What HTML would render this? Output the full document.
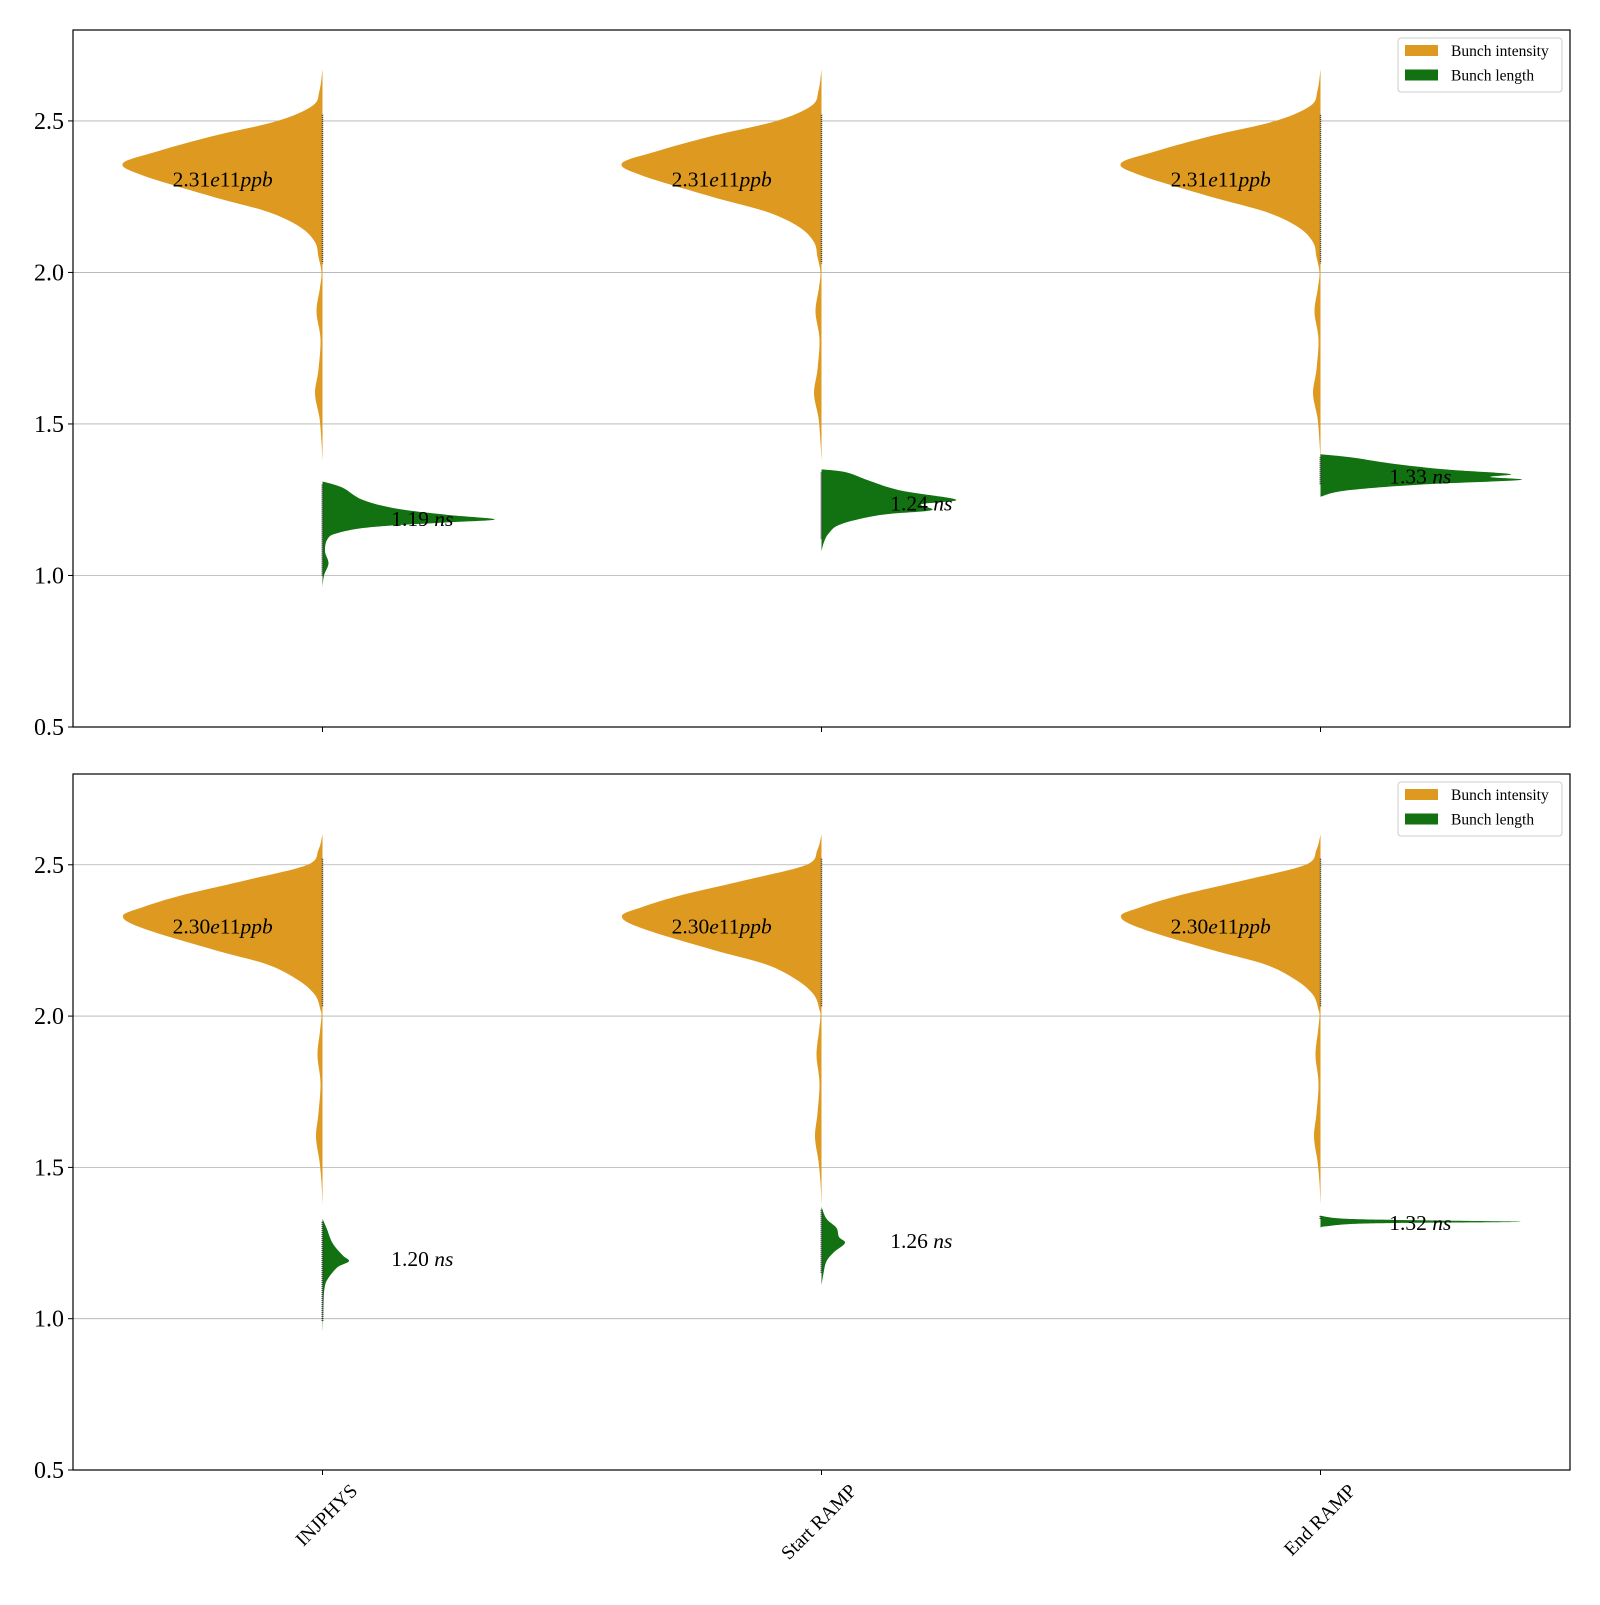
<!DOCTYPE html>
<html><head><meta charset="utf-8"><style>
html,body{margin:0;padding:0;background:#fff;}
svg text{font-family:"Liberation Serif",serif;}
</style></head><body>
<svg id="chart" width="1600" height="1600" xmlns="http://www.w3.org/2000/svg"></svg>
<script>
const categories = ["INJPHYS", "Start RAMP", "End RAMP"];
const yTicks = [0.5, 1.0, 1.5, 2.0, 2.5];
const yTickLabels = ["0.5", "1.0", "1.5", "2.0", "2.5"];
// Orange (intensity, e11 ppb) density profiles: [value, half-width]
const intensityTop = [[2.67,0],[2.6,0.006],[2.55,0.02],[2.5,0.09],[2.45,0.22],[2.4,0.33],[2.36,0.4],[2.32,0.36],[2.25,0.22],[2.2,0.11],[2.15,0.045],[2.1,0.015],[2.05,0.008],[2.0,0.002],[1.95,0.005],[1.87,0.012],[1.78,0.004],[1.68,0.008],[1.6,0.015],[1.52,0.006],[1.44,0.002],[1.38,0]];
const intensityBottom = [[2.6,0],[2.55,0.008],[2.5,0.03],[2.45,0.15],[2.4,0.28],[2.36,0.36],[2.33,0.4],[2.29,0.36],[2.22,0.22],[2.17,0.11],[2.12,0.05],[2.07,0.015],[2.02,0.004],[2.0,0.002],[1.95,0.005],[1.87,0.01],[1.78,0.004],[1.68,0.008],[1.6,0.013],[1.52,0.006],[1.45,0.002],[1.38,0]];
const intensityLabelsTop = ["2.31", "2.31", "2.31"];
const intensityLabelsBottom = ["2.30", "2.30", "2.30"];
const intensityMeanTop = [2.31, 2.31, 2.31];
const intensityMeanBottom = [2.30, 2.30, 2.30];
// Green (bunch length, ns) density profiles
const lengthTop = [
 [[1.31,0],[1.29,0.04],[1.25,0.08],[1.22,0.15],[1.2,0.25],[1.185,0.345],[1.175,0.25],[1.16,0.1],[1.14,0.03],[1.12,0.01],[1.08,0.005],[1.04,0.012],[1.0,0.003],[0.96,0]],
 [[1.35,0],[1.34,0.05],[1.31,0.1],[1.28,0.16],[1.25,0.27],[1.235,0.2],[1.215,0.22],[1.2,0.12],[1.17,0.04],[1.14,0.015],[1.11,0.005],[1.08,0]],
 [[1.4,0],[1.39,0.06],[1.37,0.14],[1.35,0.25],[1.335,0.38],[1.325,0.34],[1.315,0.4],[1.3,0.2],[1.28,0.05],[1.26,0]]
];
const lengthBottom = [
 [[1.33,0],[1.3,0.008],[1.25,0.02],[1.21,0.04],[1.19,0.053],[1.17,0.03],[1.13,0.01],[1.1,0.004],[1.05,0.002],[0.95,0]],
 [[1.37,0],[1.33,0.01],[1.3,0.03],[1.27,0.035],[1.25,0.047],[1.22,0.025],[1.19,0.01],[1.15,0.004],[1.11,0]],
 [[1.34,0],[1.33,0.05],[1.325,0.2],[1.32,0.4],[1.315,0.1],[1.305,0.01],[1.3,0]]
];
const lengthLabelsTop = ["1.19", "1.24", "1.33"];
const lengthLabelsBottom = ["1.20", "1.26", "1.32"];
const lengthMeanTop = [1.19, 1.24, 1.33];
const lengthMeanBottom = [1.20, 1.26, 1.32];

const NS = "http://www.w3.org/2000/svg";
const svg = document.getElementById("chart");
function mk(tag, attrs, parent){const e=document.createElementNS(NS,tag);for(const k in attrs)e.setAttribute(k,attrs[k]);(parent||svg).appendChild(e);return e;}
const X0=73, X1=1570;
const xScale = v => X0 + (v+0.5)/3*(X1-X0);
function curve(pts){let d="M"+pts[0][0]+","+pts[0][1];for(let i=0;i<pts.length-1;i++){const p0=pts[Math.max(0,i-1)],p1=pts[i],p2=pts[i+1],p3=pts[Math.min(pts.length-1,i+2)];const c1=[p1[0]+(p2[0]-p0[0])/6,p1[1]+(p2[1]-p0[1])/6],c2=[p2[0]-(p3[0]-p1[0])/6,p2[1]-(p3[1]-p1[1])/6];d+=" C"+c1[0].toFixed(1)+","+c1[1].toFixed(1)+" "+c2[0].toFixed(1)+","+c2[1].toFixed(1)+" "+p2[0].toFixed(1)+","+p2[1].toFixed(1);}return d;}
function panel(top,bottom,intens,iLabels,iMeans,lens,lLabels,lMeans,showX,name){
  const yScale = v => bottom - (v-0.5)/2.3*(bottom-top);
  const g=mk("g",{});
  
  
  yTicks.forEach((t,i)=>{
    const y=yScale(t);
    if(t>0.5){const gl=mk("line",{x1:X0,x2:X1,y1:y,y2:y,stroke:"#b0b0b0","stroke-width":0.8},g);
    
    }
    mk("line",{x1:X0-5,x2:X0,y1:y,y2:y,stroke:"#000","stroke-width":1},g);
    const tl=mk("text",{x:X0-9,y:y+8,"text-anchor":"end","font-size":24},g);
    tl.textContent=yTickLabels[i];
    
    
  });
  categories.forEach((c,i)=>{
    const cx=xScale(i);
    const unit=xScale(1)-xScale(0);
    let pts=intens.map(p=>[cx-p[1]*unit,yScale(p[0])]);
    const o=mk("path",{d:curve(pts)+" Z",fill:"#de9a20",stroke:"none"},g);
    
    
    mk("line",{x1:cx,x2:cx,y1:yScale(2.52),y2:yScale(2.03),stroke:"#333","stroke-width":1.5,"stroke-dasharray":"1 1"},g);
    pts=lens[i].map(p=>[cx+p[1]*unit,yScale(p[0])]);
    const gr=mk("path",{d:curve(pts)+" Z",fill:"#127212",stroke:"none"},g);
    
    
    mk("line",{x1:cx,x2:cx,y1:yScale(lens[i][0][0]-0.01),y2:yScale(lens[i][lens[i].length-1][0]+0.04),stroke:"#333","stroke-width":2,"stroke-dasharray":"1 1"},g);
    const t1=mk("text",{x:cx-0.2*unit,y:yScale(iMeans[i])+8,"text-anchor":"middle","font-size":21.5},g);
    t1.innerHTML=iLabels[i]+'<tspan font-style="italic">e</tspan>11<tspan font-style="italic">ppb</tspan>';
    
    
    const t2=mk("text",{x:cx+0.2*unit,y:yScale(lMeans[i])+8,"text-anchor":"middle","font-size":21.5},g);
    t2.innerHTML=lLabels[i]+' <tspan font-style="italic">ns</tspan>';
    
    
    mk("line",{x1:cx,x2:cx,y1:bottom,y2:bottom+5,stroke:"#000","stroke-width":1},g);
    if(showX){
      const xl=mk("text",{x:0,y:0,"text-anchor":"end","font-size":19.5,transform:`translate(${cx+36},${bottom+22}) rotate(-45)`},g);
      xl.textContent=c;
      
      
    }
  });
  const fr=mk("rect",{x:X0,y:top,width:X1-X0,height:bottom-top,fill:"none",stroke:"#000","stroke-width":1.2},g);
  
  
  const lg=mk("g",{},g);
  
  
  mk("rect",{x:1398,y:top+8,width:164,height:54,fill:"#fff",stroke:"#ccc","stroke-width":1,rx:3},lg);
  [["Bunch intensity","#de9a20"],["Bunch length","#127212"]].forEach((e,k)=>{
    const ey=top+15+k*24.5;
    const eg=mk("g",{},lg);
    
    
    mk("rect",{x:1405,y:ey,width:33,height:11,fill:e[1]},eg);
    const t=mk("text",{x:1451,y:ey+11,"font-size":15.5},eg);
    t.textContent=e[0];
  });
}
panel(30,727,intensityTop,intensityLabelsTop,intensityMeanTop,lengthTop,lengthLabelsTop,lengthMeanTop,false,"top-panel");
panel(774,1470,intensityBottom,intensityLabelsBottom,intensityMeanBottom,lengthBottom,lengthLabelsBottom,lengthMeanBottom,true,"bottom-panel");
</script>
</body></html>
